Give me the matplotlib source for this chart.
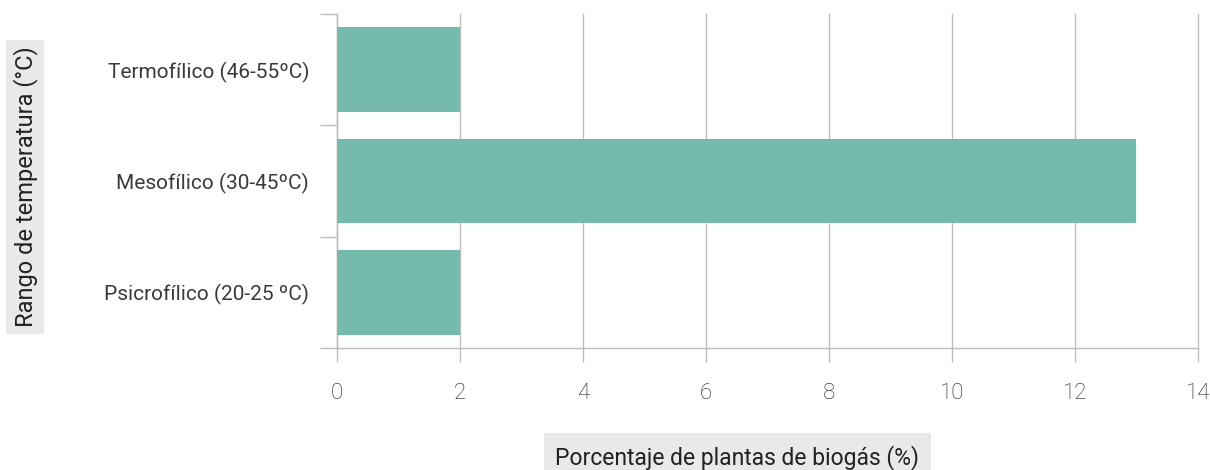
import matplotlib.pyplot as plt

plt.rcParams['font.family'] = ['Roboto', 'DejaVu Sans']

categorias = ["Psicrofílico (20-25 ºC)", "Mesofílico (30-45ºC)", "Termofílico (46-55ºC)"]
porcentaje = [2, 13, 2]
ticks_x = [0, 2, 4, 6, 8, 10, 12, 14]

gris = "#BDBDBD"
texto = "#3A3A3A"

fig = plt.figure(figsize=(12.1, 4.7), dpi=100)
ax = fig.add_axes([0.2785, 0.2596, 0.7115, 0.7104])

ax.barh(categorias, porcentaje, height=0.76, color="#74BBAE", zorder=3)

ax.set_xlim(0, 14)
ax.set_ylim(-0.5, 2.5)
ax.set_xticks(ticks_x)
ax.set_xticklabels([str(t) for t in ticks_x], fontweight="light")

# ticks del eje y en los limites entre categorias
ax.set_yticks([-0.5, 0.5, 1.5, 2.5])
ax.set_yticklabels([])
ax.set_yticks([0, 1, 2], minor=True)
ax.set_yticklabels(categorias, minor=True)
ax.tick_params(axis="y", which="minor", length=0, pad=20, labelsize=15, labelcolor=texto)
ax.tick_params(axis="y", which="major", length=12, color=gris, width=1)
ax.tick_params(axis="x", length=10, color=gris, width=1, pad=15, labelsize=16, labelcolor="#1E1E1E")

ax.grid(axis="x", color=gris, linewidth=1, zorder=0)
for g in ax.get_xgridlines():
    g.set_clip_on(False)
for s in ["top", "right"]:
    ax.spines[s].set_visible(False)
for s in ["left", "bottom"]:
    ax.spines[s].set_color(gris)
    ax.spines[s].set_linewidth(1)

fig.text(0.6095, 0.027, "Porcentaje de plantas de biogás (%)", ha="center", va="center",
         fontsize=16.5, color="#222222",
         bbox=dict(boxstyle="square,pad=0.5", facecolor="#E9E9E9", edgecolor="none"))
fig.text(0.0207, 0.603, "Rango de temperatura (°C)", ha="center", va="center", rotation=90,
         fontsize=17, color="#222222",
         bbox=dict(boxstyle="square,pad=0.28", facecolor="#E9E9E9", edgecolor="none"))

fig.savefig("out.png", dpi=100)
